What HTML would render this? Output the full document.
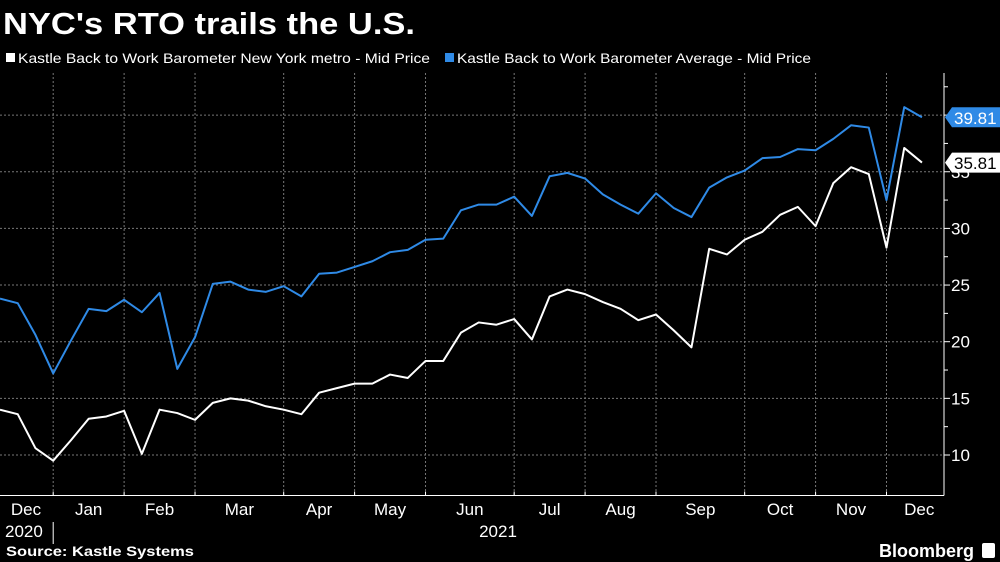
<!DOCTYPE html>
<html><head><meta charset="utf-8"><style>
html,body{margin:0;padding:0;background:#000;width:1000px;height:562px;overflow:hidden}
svg{display:block;font-family:"Liberation Sans Narrow","Liberation Sans",sans-serif}
</style></head><body>
<svg id="c" width="1000" height="562" viewBox="0 0 1000 562">
<text x="3" y="34" fill="#fff" font-family="Liberation Sans" font-weight="bold" font-size="31" textLength="412" lengthAdjust="spacingAndGlyphs">NYC's RTO trails the U.S.</text>
<g font-family="Liberation Sans" font-size="14" fill="#fff">
<rect x="6" y="53" width="9" height="9" fill="#fff"/>
<text x="18" y="63" textLength="412" lengthAdjust="spacingAndGlyphs">Kastle Back to Work Barometer New York metro - Mid Price</text>
<rect x="445" y="53" width="9" height="9" fill="#2f8ae6"/>
<text x="457" y="63" textLength="354" lengthAdjust="spacingAndGlyphs">Kastle Back to Work Barometer Average - Mid Price</text>
</g>
<g id="grid"></g><g id="axes"></g><g id="series"></g>
<text x="6" y="556" fill="#fff" font-family="Liberation Sans" font-weight="bold" font-size="14" textLength="188" lengthAdjust="spacingAndGlyphs">Source: Kastle Systems</text>
<text x="974" y="557" text-anchor="end" fill="#fff" font-family="Liberation Sans" font-weight="bold" font-size="18">Bloomberg</text>
<rect x="982" y="543" width="13" height="15" rx="2" fill="#fff"/>
</svg>
<script>
const nyValues=[14.0,13.6,10.6,9.5,11.3,13.2,13.4,13.9,10.1,14.0,13.7,13.1,14.6,15.0,14.8,14.3,14.0,13.6,15.5,15.9,16.3,16.3,17.1,16.8,18.3,18.3,20.8,21.7,21.5,22.0,20.2,24.0,24.6,24.2,23.5,22.9,21.9,22.4,21.0,19.5,28.2,27.7,29.0,29.7,31.2,31.9,30.2,34.0,35.4,34.8,28.3,37.1,35.81];
const avgValues=[23.8,23.4,20.6,17.2,20.1,22.9,22.7,23.7,22.6,24.3,17.6,20.4,25.1,25.3,24.6,24.4,24.9,24.0,26.0,26.1,26.6,27.1,27.9,28.1,29.0,29.1,31.6,32.1,32.1,32.8,31.1,34.6,34.9,34.4,33.0,32.1,31.3,33.1,31.8,31.0,33.6,34.5,35.1,36.2,36.3,37.0,36.9,37.9,39.1,38.9,32.5,40.7,39.81];
const yTicks=[10,15,20,25,30,35,40];
const monthLabels=["Dec","Jan","Feb","Mar","Apr","May","Jun","Jul","Aug","Sep","Oct","Nov","Dec"];
const monthStartIdx=[0,3,7,11,16,20,24,29,33,37,42,46,50];
const NS="http://www.w3.org/2000/svg";
const X0=0,DX=17.73,PR=944,PT=73,PB=495.5;
const xs=i=>X0+i*DX;
const ys=v=>455-(v-10)*11.33;
function mk(tag,attrs,parent){const e=document.createElementNS(NS,tag);for(const k in attrs)e.setAttribute(k,attrs[k]);parent.appendChild(e);return e;}
const grid=document.getElementById('grid'),axes=document.getElementById('axes'),ser=document.getElementById('series');
yTicks.forEach(t=>{
 const l=mk('line',{x1:0,x2:PR,y1:ys(t),y2:ys(t),stroke:'#777','stroke-width':1,'stroke-dasharray':'2,2'},grid);
 
 
 mk('line',{x1:PR,x2:PR+6,y1:ys(t),y2:ys(t),stroke:'#fff'},axes);
 mk('line',{x1:PR,x2:PR+4,y1:ys(t+2.5),y2:ys(t+2.5),stroke:'#fff'},axes);
 const tx=mk('text',{x:PR+7,y:ys(t)+6,fill:'#fff','font-size':17},axes);
 tx.textContent=t;
 
 
});
for(let m=1;m<monthStartIdx.length;m++){
 const gx=xs(monthStartIdx[m]);
 const l=mk('line',{x1:gx,x2:gx,y1:PT,y2:PB,stroke:'#777','stroke-width':1,'stroke-dasharray':'2,2'},grid);
 
 
 mk('line',{x1:gx,x2:gx,y1:PB-4,y2:PB,stroke:'#fff'},axes);
}
monthLabels.forEach((lab,m)=>{
 const s=xs(monthStartIdx[m]);
 const e=m+1<monthStartIdx.length?xs(monthStartIdx[m+1]):xs(52)+30;
 const cx=m===0?26:(s+e)/2;
 const t=mk('text',{x:cx,y:515,fill:'#fff','font-size':17,'text-anchor':'middle'},axes);
 t.textContent=lab;
 
 
});
mk('line',{x1:0,x2:PR,y1:PB,y2:PB,stroke:'#fff'},axes);
mk('line',{x1:PR,x2:PR,y1:PT,y2:PB,stroke:'#fff'},axes);
mk('line',{x1:xs(3),x2:xs(3),y1:522,y2:544,stroke:'#fff'},axes);
const y1=mk('text',{x:5,y:537,fill:'#fff','font-size':17},axes);y1.textContent='2020';


const y2=mk('text',{x:498,y:537,fill:'#fff','font-size':17,'text-anchor':'middle'},axes);y2.textContent='2021';


function line(vals,color,name){
 const p=mk('polyline',{points:vals.map((v,i)=>xs(i)+','+ys(v)).join(' '),fill:'none',stroke:color,'stroke-width':2,'stroke-linejoin':'round'},ser);
 
 
}
line(avgValues,'#2f8ae6','avg-line');
line(nyValues,'#ffffff','ny-line');
function flag(v,bg,fg,name){
 const y=ys(v);
 const g=mk('g',{},axes);
 
 
 mk('path',{d:`M${PR+1},${y} L${PR+8},${y-10} H1000 V${y+10} H${PR+8} Z`,fill:bg},g);
 const t=mk('text',{x:PR+10,y:y+6.5,fill:fg,'font-size':17},g);t.textContent=v.toFixed(2);
}
flag(nyValues[nyValues.length-1],'#fff','#000','ny-last-value');
flag(avgValues[avgValues.length-1],'#2f8ae6','#fff','avg-last-value');
</script>
</body></html>
